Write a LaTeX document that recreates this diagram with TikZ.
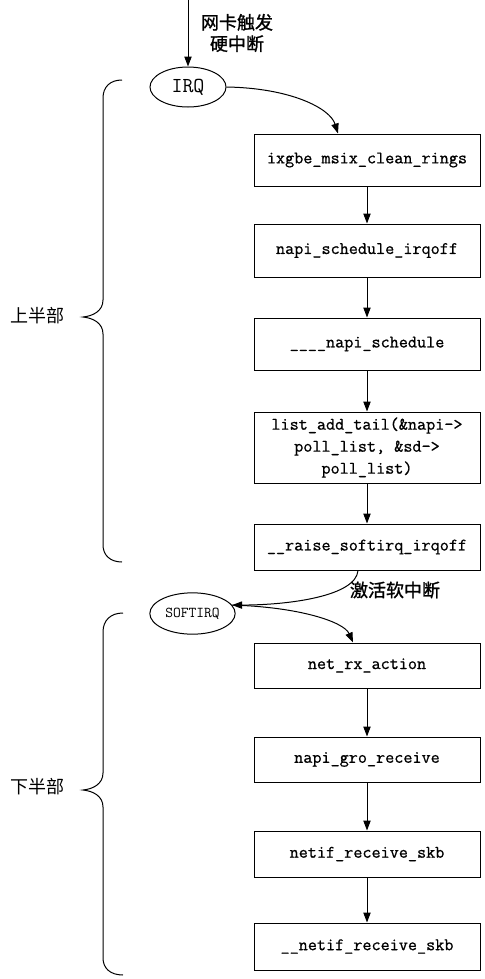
\documentclass[tikz,border=0pt]{standalone}
\usepackage{fontspec}
\newfontfamily\cjk{Noto Sans CJK SC}
\newfontfamily\cjkb[FakeBold=1.2]{Noto Sans CJK SC}
\newfontfamily\codefont[FakeBold=0.8]{Latin Modern Mono}
\usetikzlibrary{arrows.meta,shapes.geometric}
\begin{document}
\begin{tikzpicture}[x=0.75pt,y=-0.75pt,
  line width=0.75pt,
  box/.style={draw, minimum width=169.5pt, minimum height=#1, inner sep=0pt, align=center,
    font=\codefont\fontsize{13.25}{16.5}\selectfont},
  box/.default=37.5pt,
  oval/.style={draw, ellipse, inner sep=0pt, minimum width=#1},
  cjktext/.style={font=\cjk\fontsize{13.5}{16}\selectfont, align=center, inner sep=0pt},
  cjkbold/.style={font=\cjkb\fontsize{13.5}{16}\selectfont, align=center, inner sep=0pt},
  arr/.style={-{Triangle[length=7.5pt,width=5.5pt]}},
  brace/.style={line width=0.75pt}
]
\useasboundingbox (0,0) rectangle (485,979);

% ovals
\node[oval=57pt, minimum height=30pt, font=\ttfamily\fontsize{16}{18}\selectfont] (irq) at (188,87) {IRQ};
\node[oval=64pt, minimum height=31pt, font=\ttfamily\fontsize{11.3}{13}\selectfont] (soft) at (192.5,613.5) {SOFTIRQ};

% boxes
\node[box=39pt] (b1) at (367,160) {ixgbe\_msix\_clean\_rings};
\node[box=39.75pt] (b2) at (367,250.5) {napi\_schedule\_irqoff};
\node[box=39pt] (b3) at (367,344) {\_\_\_\_napi\_schedule};
\node[box=53.25pt] (b4) at (367,447.5) {list\_add\_tail(\&napi->\\poll\_list, \&sd->\\poll\_list)};
\node[box=34.5pt] (b5) at (367,547) {\_\_raise\_softirq\_irqoff};
\node[box=33.75pt] (b6) at (367,665.5) {net\_rx\_action};
\node[box=33.75pt] (b7) at (367,759.5) {napi\_gro\_receive};
\node[box=34.5pt] (b8) at (367,854) {netif\_receive\_skb};
\node[box=35.25pt] (b9) at (367,946.5) {\_\_netif\_receive\_skb};

% labels
\node[cjkbold] (lhw) at (237,33) {网卡触发\\硬中断};
\node[cjkbold] (lsoft) at (395,590) {激活软中断};
\node[cjktext] (ltop) at (38,316) {上半部};
\node[cjktext] (lbot) at (38,787) {下半部};

% incoming
\coordinate (src) at (188,0);
\draw[arr] (src) -- (irq.north);

% curves
\draw[arr] (irq.east) .. controls (290,88) and (330,108) .. ([xshift=-21.75pt]b1.north);
\draw[arr] ([xshift=-6.75pt]b5.south) .. controls (356,596) and (290,605) .. (soft.12);
\draw[arr] (soft.12) .. controls (300,607) and (344,622) .. ([xshift=-10.5pt]b6.north);

% straight arrows
\draw[arr] (b1) -- (b2);
\draw[arr] (b2) -- (b3);
\draw[arr] (b3) -- (b4);
\draw[arr] (b4) -- (b5);
\draw[arr] (b6) -- (b7);
\draw[arr] (b7) -- (b8);
\draw[arr] (b8) -- (b9);

% braces
\draw[brace] (122,80) .. controls (110,80) and (103,87) .. (103,98) -- (103,300)
  .. controls (103,311) and (93,316) .. (83,317)
  .. controls (93,318) and (103,323) .. (103,334) -- (103,545)
  .. controls (103,555) and (110,562) .. (122,562);
\draw[brace] (123,613) .. controls (111,613) and (103,620) .. (103,632) -- (103,773)
  .. controls (103,784) and (93,789) .. (83,790)
  .. controls (93,791) and (103,796) .. (103,807) -- (103,958)
  .. controls (103,968) and (110,975) .. (123,975);
\end{tikzpicture}
\end{document}
